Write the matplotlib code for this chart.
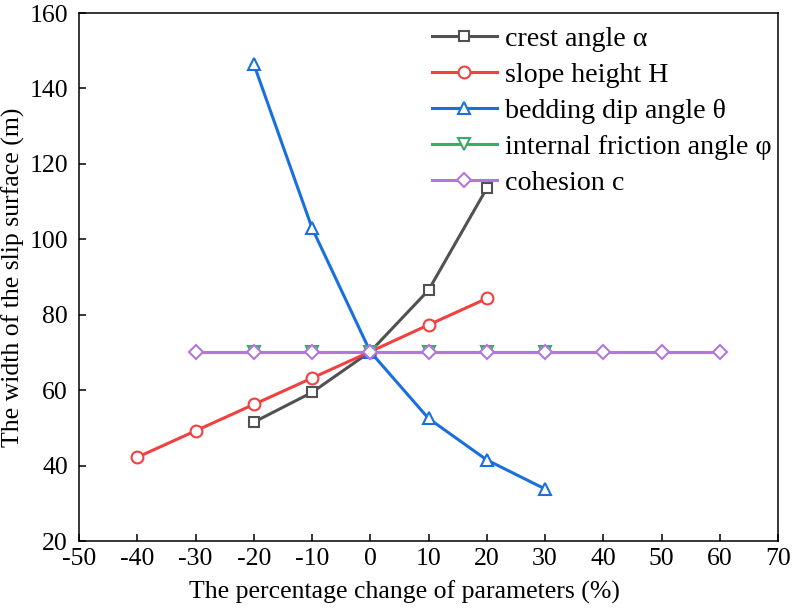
import numpy as np
import matplotlib.pyplot as plt

plt.rcParams['font.family'] = ['Liberation Serif', 'DejaVu Serif']
plt.rcParams['axes.unicode_minus'] = False

# data
x_crest = [-20, -10, 0, 10, 20]
y_crest = [51.5, 59.4, 70.2, 86.5, 113.5]

x_height = [-40, -30, -20, -10, 0, 10, 20]
y_height = [42.2, 49.2, 56.2, 63.2, 70.2, 77.3, 84.3]

x_dip = [-20, -10, 0, 10, 20, 30]
y_dip = [146.5, 103.0, 70.2, 52.5, 41.5, 33.8]

x_friction = [-20, -10, 0, 10, 20, 30]
y_friction = [70.2, 70.2, 70.2, 70.2, 70.2, 70.2]

x_cohesion = [-30, -20, -10, 0, 10, 20, 30, 40, 50, 60]
y_cohesion = [70.2] * 10

fig = plt.figure(figsize=(7.94, 6.09), dpi=100)
ax = fig.add_axes([79/794, 1 - 541/609, (778-79)/794, (541-13)/609])

style = dict(lw=2.2, mew=1.5, mfc='white')
ax.plot(x_crest, y_crest, marker='s', ms=6.5, color='#515151', label='crest angle α', **style)
ax.plot(x_height, y_height, marker='o', ms=8.5, color='#F14040', label='slope height H', **style)
ax.plot(x_dip, y_dip, marker='^', ms=9, color='#1A6FDF', label='bedding dip angle θ', **style)
ax.plot(x_friction, y_friction, marker='v', ms=9, color='#37AD6B', label='internal friction angle φ', **style)
ax.plot(x_cohesion, y_cohesion, marker='D', ms=7.5, color='#B177DE', label='cohesion c', **style)

ax.set_xlim(-50, 70)
ax.set_ylim(20, 160)
ax.set_xticks(np.arange(-50, 71, 10))
ax.set_yticks(np.arange(20, 161, 20))
ax.tick_params(direction='in', length=5, width=1.1, labelsize=18.5)
ax.tick_params(axis='x', pad=5)
ax.tick_params(axis='y', pad=8)
for s in ax.spines.values():
    s.set_linewidth(1.1)

ax.set_xlabel('The percentage change of parameters (%)', fontsize=18.5)
ax.xaxis.set_label_coords(0.466, -0.075)
ax.set_ylabel('The width of the slip surface (m)', fontsize=18.5)
ax.yaxis.set_label_coords(-0.077, 0.5)

ax.legend(loc='upper left', bbox_to_anchor=(0.505, 0.975), frameon=False, fontsize=20.2,
          handlelength=2.3, handletextpad=0.3, labelspacing=0.37,
          borderpad=0, borderaxespad=0)

fig.savefig('out.png', dpi=100)
